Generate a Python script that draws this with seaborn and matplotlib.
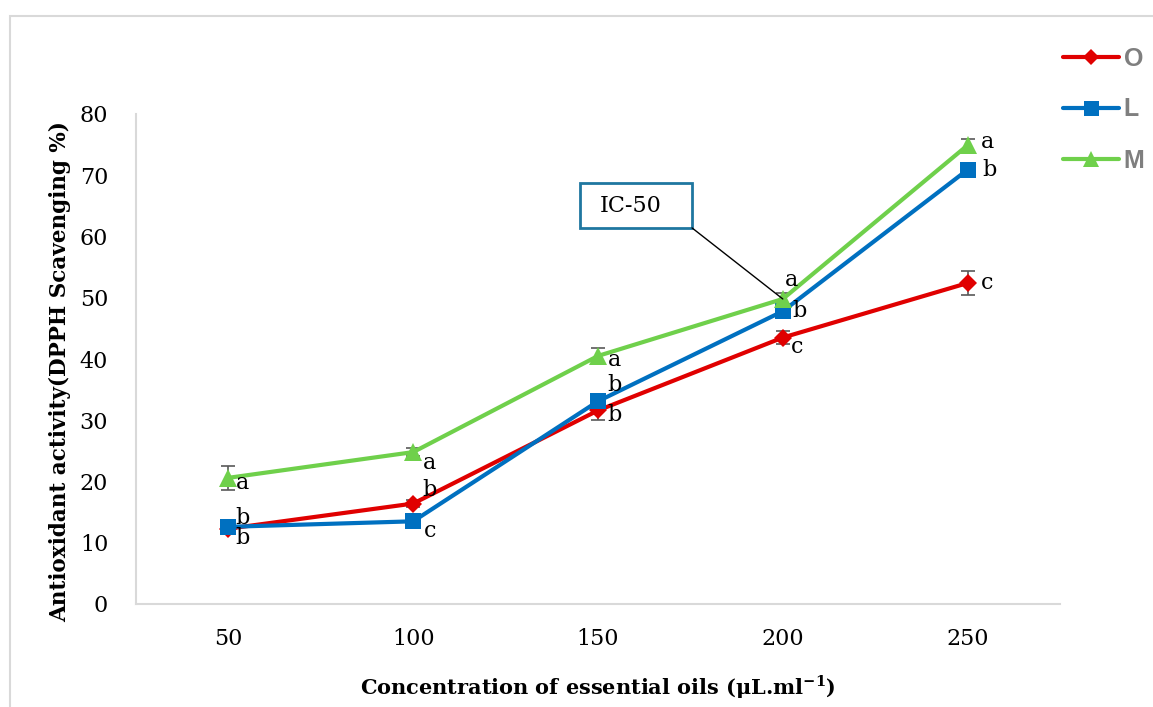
import matplotlib
matplotlib.use("Agg")
import matplotlib.pyplot as plt
from matplotlib.lines import Line2D
from matplotlib.patches import Rectangle
import seaborn as sns
import pandas as pd
import numpy as np

# ---- data ----
concentrations = ["50", "100", "150", "200", "250"]
oils = ["O", "L", "M"]
values_O = [12.3, 16.4, 31.6, 43.5, 52.4]
values_L = [12.6, 13.5, 33.1, 47.8, 70.9]
values_M = [20.6, 24.8, 40.5, 49.8, 74.9]
err_O = [0.4, 0.5, 1.6, 1.1, 1.9]
err_L = [0.4, 0.4, 0.6, 0.6, 0.5]
err_M = [2.0, 0.6, 1.3, 1.0, 1.0]
letters_O = ["b", "b", "b", "c", "c"]
letters_L = ["b", "c", "b", "b", "b"]
letters_M = ["a", "a", "a", "a", "a"]
ic50_label = "IC-50"
xlabel = "Concentration of essential oils (\u03bcL.ml$^{\\mathbf{-1}}$)"
ylabel = "Antioxidant activity(DPPH Scavenging %)"

values = {"O": values_O, "L": values_L, "M": values_M}
errors = {"O": err_O, "L": err_L, "M": err_M}
letters = {"O": letters_O, "L": letters_L, "M": letters_M}

colors = {"O": "#E00000", "L": "#0070C0", "M": "#6FD04B"}
markers = {"O": "D", "L": "s", "M": "^"}
msizes = {"O": 9, "L": 12, "M": 13}

# letter offsets in points (layout only)
letter_offsets = {
    "O": [(10, 8), (12, 10), (12, -3), (10, -7), (14, 0)],
    "L": [(10, -8), (12, -7), (12, 12), (12, 0), (16, 0)],
    "M": [(10, -4), (12, -8), (12, -3), (6, 14), (14, 2)],
}

df = pd.DataFrame(
    [(c, o, values[o][i]) for o in oils for i, c in enumerate(concentrations)],
    columns=["conc", "oil", "value"],
)

sns.set_theme(style="white")
plt.rcParams["font.family"] = ["DejaVu Serif"]
plt.rcParams["text.color"] = "black"
plt.rcParams["mathtext.fontset"] = "custom"
plt.rcParams["mathtext.rm"] = "DejaVu Serif"
plt.rcParams["mathtext.bf"] = "DejaVu Serif:bold"

fig = plt.figure(figsize=(11.53, 7.07), dpi=100)
ax = fig.add_axes([136 / 1153, 1 - 604 / 707, (1060 - 136) / 1153, (604 - 114) / 707])

# error bars (under lines)
xpos = np.arange(len(concentrations))
for o in oils:
    ax.errorbar(xpos, values[o], yerr=errors[o], fmt="none", ecolor="#595959",
                elinewidth=1.2, capsize=5, capthick=1.2, zorder=1)

for o in oils:
    sub = df[df["oil"] == o]
    sns.lineplot(data=sub, x="conc", y="value", ax=ax, color=colors[o],
                 marker=markers[o], markersize=msizes[o], markeredgewidth=0,
                 linewidth=3, legend=False, sort=False, zorder=3)

# significance letters
for o in oils:
    for i, c in enumerate(concentrations):
        dx, dy = letter_offsets[o][i]
        ax.annotate(letters[o][i], xy=(i, values[o][i]), xytext=(dx, dy),
                    textcoords="offset points", ha="center", va="center",
                    fontsize=16, color="black", zorder=5)

# IC-50 callout: box, text and leader line
box_x0, box_x1, box_y0, box_y1 = 1.903, 2.509, 61.4, 68.7
ax.add_patch(Rectangle((box_x0, box_y0), box_x1 - box_x0, box_y1 - box_y0,
                       fc="white", ec="#1F77A0", lw=2, zorder=6))
ax.text((box_x0 + box_x1) / 2 - 0.03, (box_y0 + box_y1) / 2, ic50_label,
        ha="center", va="center", fontsize=16, color="black", zorder=7)
ax.annotate("", xy=(3, values_M[3]), xytext=(box_x1, box_y0), textcoords="data",
            arrowprops=dict(arrowstyle="-", color="black", lw=1, shrinkA=0, shrinkB=0),
            zorder=6)

ax.set_xlim(-0.5, len(concentrations) - 0.5)
ax.set_ylim(0, 80)
ax.set_yticks(range(0, 81, 10))
ax.tick_params(axis="both", length=0, labelsize=16, colors="black")
ax.tick_params(axis="y", pad=20)
ax.tick_params(axis="x", pad=17)
for s in ["top", "right"]:
    ax.spines[s].set_visible(False)
for s in ["left", "bottom"]:
    ax.spines[s].set_color("#D9D9D9")
    ax.spines[s].set_linewidth(1.5)
ax.grid(False)
ax.set_xlabel("")
ax.set_ylabel("")

fig.text(598 / 1153, 1 - 687 / 707, xlabel, ha="center", va="center",
         fontsize=15, fontweight="bold", color="black")
fig.text(60 / 1153, 1 - 372 / 707, ylabel, ha="center", va="center",
         rotation=90, fontsize=15.5, fontweight="bold", color="black")

handles = [Line2D([0], [0], color=colors[o], marker=markers[o], markersize=msizes[o] * 0.9,
                  markeredgewidth=0, linewidth=3) for o in oils]
leg = fig.legend(handles, oils, loc="upper left", bbox_to_anchor=(1050 / 1153, 1 - 34 / 707),
                 frameon=False, handlelength=2.25, handletextpad=0.2, labelspacing=1.08,
                 borderpad=0, prop={"family": "Liberation Sans", "weight": "bold", "size": 18})
for t in leg.get_texts():
    t.set_color("#7F7F7F")

fig.patches.append(Rectangle((10 / 1153, -0.05), 1.2, (707 - 16) / 707 + 0.05, fill=False,
                             edgecolor="#D9D9D9", linewidth=1.5, transform=fig.transFigure))

fig.savefig("out.png", dpi=100, facecolor="white")
